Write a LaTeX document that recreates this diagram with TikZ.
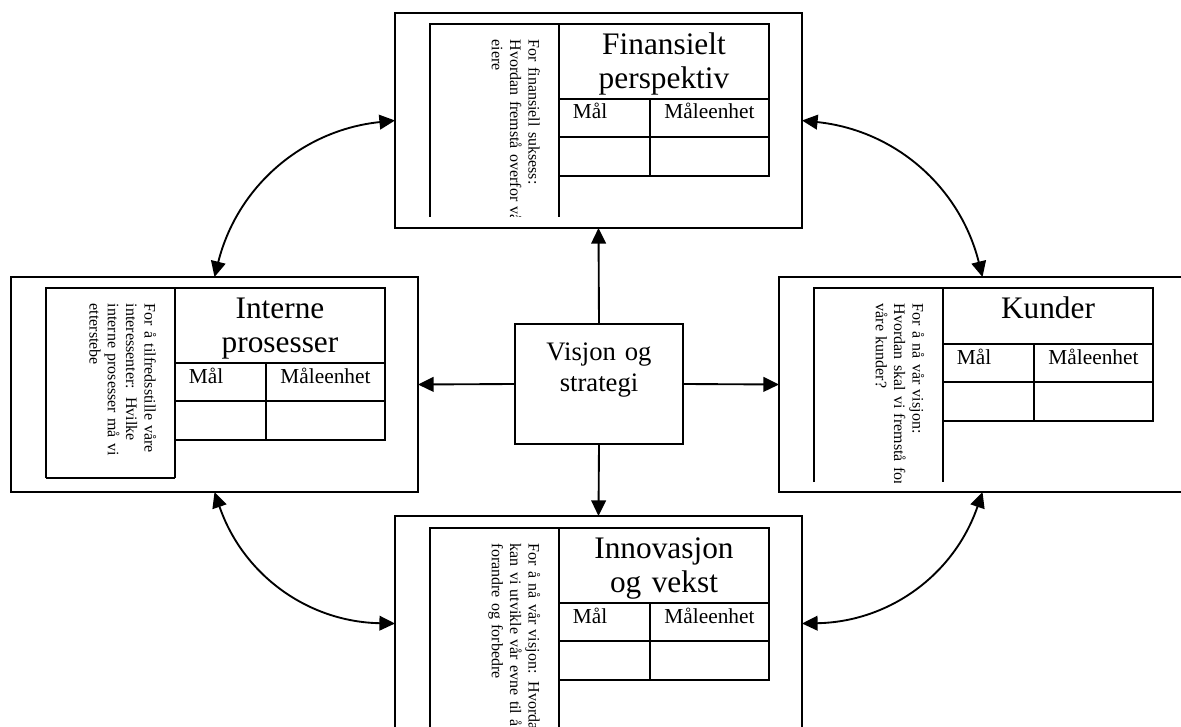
\documentclass[tikz,border=0pt]{standalone}
\usepackage{fontspec}
\setmainfont{Liberation Serif}
\usetikzlibrary{arrows.meta}
\newcommand\bscpanel[8]{%
  % #1,#2 inner top-left; #3 header height; #4 left column height;
  % #5 extra lines; #6 title; #7 vertical text; #8 name prefix
  \begin{scope}[shift={(#1,#2)}]
    \begin{scope}
      \clip (0,0) rectangle (129,#4);
      \node[vtext] (#8text) at (98.5,15.5) {#7};
    \end{scope}
    \draw[innerline] (0,#4) -- (0,0) -- (129,0) -- (129,#4);
    #5
    \draw[innerline] (129,0) rectangle (339,#3+77);
    \draw[innerline] (129,#3) -- (339,#3) (129,#3+38) -- (339,#3+38) (220,#3) -- (220,#3+77);
    \node[titletext] (#8title) at (234,30.5) {#6};
    \node[celltext, anchor=base west] (#8mal) at (142.7,#3+20) {Mål};
    \node[celltext, anchor=base] (#8enhet) at (279.5,#3+20) {Måleenhet};
  \end{scope}}
\begin{document}
\begin{tikzpicture}[x=0.75pt,y=-0.75pt,
  outerbox/.style={draw, line width=1.2pt, rectangle, inner sep=0pt, outer sep=0pt,
    minimum width=305.25pt, minimum height=161.25pt},
  visbox/.style={draw, line width=1.8pt, rectangle, inner sep=0pt, outer sep=0pt,
    minimum width=126pt, minimum height=90pt},
  innerline/.style={line width=2pt, line join=miter},
  arr/.style={line width=1.4pt, -{Triangle[length=11.7pt,width=11pt]}},
  darr/.style={line width=1.4pt, {Triangle[length=11.7pt,width=11pt]}-{Triangle[length=11.7pt,width=11pt]}},
  vtext/.style={rotate=-90, anchor=base west, text width=220pt, align=left, inner sep=0pt,
    font=\fontsize{12}{13.7}\selectfont},
  titletext/.style={anchor=base, text width=150pt, align=center, inner sep=0pt,
    font=\fontsize{23.5}{25.5}\selectfont},
  celltext/.style={inner sep=0pt, font=\fontsize{16}{18}\selectfont},
  vistext/.style={anchor=base, text width=120pt, align=center, inner sep=0pt,
    font=\fontsize{20}{23.6}\selectfont}
]
\useasboundingbox (0,0) rectangle (1181,727);
\clip (0,0) rectangle (1181,727);

% outer boxes
\node[outerbox] (top) at (598.5,120.5) {};
\node[outerbox] (left) at (214.5,384.5) {};
\node[outerbox] (right) at (982.5,384.5) {};
\node[outerbox] (bot) at (598.5,623.5) {};

% centre box
\node[visbox] (vis) at (599,384) {};
\node[vistext] (vislabel) at (599,360) {Visjon og\\strategi};

% panels
\bscpanel{430}{24}{75}{193}{}{Finansielt\\perspektiv}{For finansiell suksess:\\Hvordan fremstå overfor vå\\eiere}{p1}
\bscpanel{46}{288}{75}{190}{\draw[innerline] (0,190) -- (129,190);}{Interne\\prosesser}{For å tilfredsstille våre\\interessenter: Hvilke\\interne prosesser må vi\\etterstebe}{p2}
\bscpanel{814}{288}{56}{194}{}{Kunder}{For å nå vår visjon:\\Hvordan skal vi fremstå for\\våre kunder?}{p3}
\bscpanel{430}{528}{75}{210}{}{Innovasjon\\og vekst}{For å nå vår visjon: Hvordan\\kan vi utvikle vår evne til å\\forandre og forbedre}{p4}

% straight arrows
\draw[arr] (vis.north) -- (top.south);
\draw[arr] (vis.south) -- (bot.north);
\draw[arr] (vis.west) -- (left.east);
\draw[arr] (vis.east) -- (right.west);

% curved double arrows
\draw[darr] (left.north) to[bend left=35] (top.west);
\draw[darr] (top.east) to[bend left=35] (right.north);
\draw[darr] (left.south) to[bend right=35] (bot.west);
\draw[darr] (bot.east) to[bend right=35] (right.south);
\end{tikzpicture}
\end{document}
